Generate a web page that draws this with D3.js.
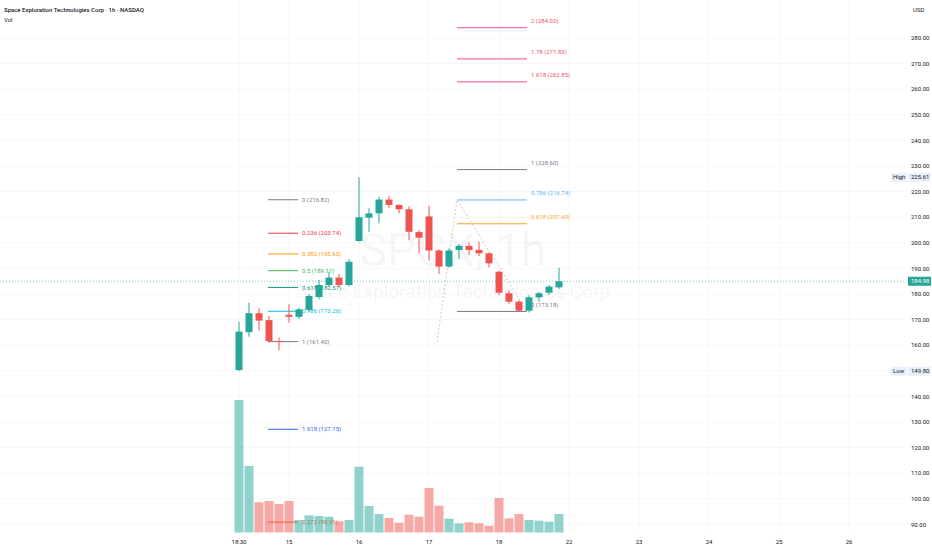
<!DOCTYPE html>
<html>
<head>
<meta charset="utf-8">
<script src="https://cdn.jsdelivr.net/npm/d3@7"></script>
<style>
  body { margin: 0; background: #ffffff; }
  text { font-family: Roboto, "Noto Sans", sans-serif; }
</style>
</head>
<body>
<script>
// hourly candles
var opens  = [150.3,165.1,172.5,169.8,161.6,171.9,171.1,173.8,178.8,183.5,186.4,183.5,200.7,209.8,211.5,216.9,214.8,213.1,204.2,210.3,197.0,190.7,197.2,198.8,197.2,195.9,188.7,180.3,177.0,173.5,178.7,180.5,182.6];
var highs  = [169.2,176.6,174.4,171.4,163.1,176.0,174.7,180.0,185.5,188.7,187.8,193.6,225.61,213.5,218.0,218.4,215.0,214.2,205.0,214.4,197.5,197.8,199.5,200.2,200.5,196.2,189.0,181.5,177.5,179.5,180.8,183.5,190.3];
var lows   = [149.8,163.3,165.7,161.0,158.0,168.8,170.2,172.9,178.0,182.8,182.6,183.0,200.4,204.3,207.6,213.5,211.5,201.0,195.9,193.0,187.8,190.3,193.6,195.2,194.8,190.4,179.5,176.0,173.18,172.8,177.0,179.6,182.0];
var closes = [165.3,172.5,169.6,161.6,161.4,171.1,174.0,179.2,183.5,186.4,183.5,192.6,210.0,211.5,216.9,214.8,213.1,204.3,202.0,197.0,190.7,197.0,198.8,197.2,195.9,192.0,180.5,177.0,173.5,178.7,180.3,182.9,184.98];
var volumes = [13.25,6.65,3.02,3.15,2.85,3.15,1.25,1.72,1.65,1.58,1.12,1.25,6.58,2.65,1.85,1.45,0.98,1.78,1.58,4.45,2.68,1.38,0.92,1.02,0.92,0.68,3.45,1.42,1.85,1.25,1.18,1.08,1.85];

var timeLabels = ["18:30","15","16","17","18","22","23","24","25","26"];
var timeIndex  = [0,5,12,19,26,33,40,47,54,61];
var priceTicks = [90,100,110,120,130,140,150,160,170,180,190,200,210,220,230,240,250,260,270,280];

var lastPrice = 184.98;
var highPrice = 225.61;
var lowPrice = 149.80;

// fib retracement on the left
var fibLeftTop = 216.82;
var fibLeftBottom = 161.40;
var fibLeftLevels = [0,0.236,0.382,0.5,0.618,0.786,1,1.618,2.272];
var fibLeftColors = ["#787b86","#f23645","#ff9800","#4caf50","#089981","#00bcd4","#787b86","#2962ff","#ff5722"];
var fibLeftSpan = [2.9,5.9];

// trend based fib extension on the right
var fibRightBase = 173.18;
var fibRightRange = 55.42;
var fibRightLevels = [0,0.618,0.786,1,1.618,1.78,2];
var fibRightColors = ["#787b86","#f5a623","#64b5f6","#787b86","#ef4f74","#ef4f74","#ef4f74"];
var fibRightSpan = [21.8,28.8];
var trendPoints = [[19.8,161.40],[21.8,216.82],[28.8,173.18]];

var width = 932, height = 550;
var paneRight = 905, paneBottom = 532.5;
var up = "#26a69a", down = "#ef5350";

var x = d3.scaleLinear().domain([0,61]).range([239,849]);
var y = d3.scaleLinear().domain([90,280]).range([524.4,38]);
var yVol = d3.scaleLinear().domain([0,d3.max(volumes)]).range([paneBottom,400]);

var svg = d3.select("body").append("svg").attr("width",width).attr("height",height);

// grid
svg.append("g").selectAll("line").data(priceTicks).enter().append("line")
    .attr("x1",0).attr("x2",paneRight)
    .attr("y1",function(d){ return y(d); }).attr("y2",function(d){ return y(d); })
    .style("stroke","#f6f7f9");
svg.append("g").selectAll("line").data(timeIndex).enter().append("line")
    .attr("x1",function(d){ return x(d); }).attr("x2",function(d){ return x(d); })
    .attr("y1",0).attr("y2",paneBottom)
    .style("stroke","#f6f7f9");

// watermark
svg.append("text")
    .attr("x",453).attr("y",266)
    .style("text-anchor","middle")
    .style("font-size","46px")
    .style("fill","#787b86").style("fill-opacity",0.08)
    .text("SPCX, 1h");
svg.append("text")
    .attr("x",453).attr("y",298)
    .style("text-anchor","middle")
    .style("font-size","19px")
    .style("fill","#787b86").style("fill-opacity",0.08)
    .text("Space Exploration Technologies Corp");

// current price line
svg.append("line")
    .attr("x1",0).attr("x2",paneRight)
    .attr("y1",y(lastPrice)).attr("y2",y(lastPrice))
    .style("stroke",up).style("stroke-dasharray","1,2").style("stroke-opacity",0.6);

// left fib
var fibL = svg.append("g");
fibLeftLevels.forEach(function(lv,i){
  var p = fibLeftTop - lv*(fibLeftTop-fibLeftBottom);
  fibL.append("line")
      .attr("x1",x(fibLeftSpan[0])).attr("x2",x(fibLeftSpan[1]))
      .attr("y1",y(p)).attr("y2",y(p))
      .style("stroke",fibLeftColors[i]);
  fibL.append("text")
      .attr("x",x(fibLeftSpan[1])+4).attr("y",y(p))
      .attr("dy","0.35em")
      .style("font-size","6px")
      .style("fill",fibLeftColors[i])
      .text(lv+" ("+p.toFixed(2)+")");
});

// right fib extension
var fibR = svg.append("g");
fibR.append("path")
    .datum(trendPoints)
    .attr("d",d3.line().x(function(d){ return x(d[0]); }).y(function(d){ return y(d[1]); }))
    .style("fill","none").style("stroke","#787b86")
    .style("stroke-dasharray","2,2").style("stroke-opacity",0.4);
fibRightLevels.forEach(function(lv,i){
  var p = fibRightBase + lv*fibRightRange;
  fibR.append("line")
      .attr("x1",x(fibRightSpan[0])).attr("x2",x(fibRightSpan[1]))
      .attr("y1",y(p)).attr("y2",y(p))
      .style("stroke",fibRightColors[i]);
  fibR.append("text")
      .attr("x",x(fibRightSpan[1])+4).attr("y",y(p)-7)
      .attr("dy","0.35em")
      .style("font-size","6px")
      .style("fill",fibRightColors[i])
      .text(lv+" ("+p.toFixed(2)+")");
});

// volume
svg.append("g").selectAll("rect").data(volumes).enter().append("rect")
    .attr("x",function(d,i){ return x(i)-4.5; })
    .attr("width",9)
    .attr("y",function(d){ return yVol(d); })
    .attr("height",function(d){ return paneBottom - yVol(d); })
    .style("fill",function(d,i){ return closes[i] >= opens[i] ? up : down; })
    .style("fill-opacity",0.5);

// candles
var candles = svg.append("g").selectAll("g").data(opens).enter().append("g");
candles.append("line")
    .attr("x1",function(d,i){ return x(i); }).attr("x2",function(d,i){ return x(i); })
    .attr("y1",function(d,i){ return y(highs[i]); }).attr("y2",function(d,i){ return y(lows[i]); })
    .style("stroke",function(d,i){ return closes[i] >= opens[i] ? up : down; });
candles.append("rect")
    .attr("x",function(d,i){ return x(i)-3.5; })
    .attr("width",7)
    .attr("y",function(d,i){ return y(Math.max(opens[i],closes[i])); })
    .attr("height",function(d,i){ return Math.max(1, Math.abs(y(opens[i])-y(closes[i]))); })
    .style("fill",function(d,i){ return closes[i] >= opens[i] ? up : down; });

// price axis
svg.append("g").selectAll("text").data(priceTicks).enter().append("text")
    .attr("x",911).attr("y",function(d){ return y(d); })
    .attr("dy","0.35em")
    .style("font-size","6px").style("fill","#131722")
    .text(function(d){ return d.toFixed(2); });
svg.append("text").attr("x",913).attr("y",10).attr("dy","0.35em")
    .style("font-size","6px").style("fill","#131722").text("USD");

function priceTag(p, bg, fg, name){
  svg.append("rect").attr("x",908).attr("y",y(p)-4.5).attr("width",23).attr("height",9)
      .style("fill",bg);
  svg.append("text").attr("x",911).attr("y",y(p)).attr("dy","0.35em")
      .style("font-size","6px").style("fill",fg).text(p.toFixed(2));
  if (name) {
    svg.append("rect").attr("x",891).attr("y",y(p)-4.5).attr("width",16).attr("height",9)
        .style("fill",bg);
    svg.append("text").attr("x",893).attr("y",y(p)).attr("dy","0.35em")
        .style("font-size","6px").style("fill",fg).text(name);
  }
}
priceTag(highPrice,"#e8f0fb","#131722","High");
priceTag(lowPrice,"#e8f0fb","#131722","Low");
priceTag(lastPrice,up,"#ffffff",null);

// time axis
svg.append("g").selectAll("text").data(timeIndex).enter().append("text")
    .attr("x",function(d){ return x(d); }).attr("y",542)
    .attr("dy","0.35em")
    .style("text-anchor","middle")
    .style("font-size","6px").style("fill","#131722")
    .text(function(d,i){ return timeLabels[i]; });

// legend
svg.append("text").attr("x",4).attr("y",10).attr("dy","0.35em")
    .style("font-size","6px").style("font-weight","500").style("fill","#131722")
    .text("Space Exploration Technologies Corp · 1h · NASDAQ");
svg.append("text").attr("x",4).attr("y",20).attr("dy","0.35em")
    .style("font-size","6px").style("fill","#131722")
    .text("Vol");
</script>
</body>
</html>
